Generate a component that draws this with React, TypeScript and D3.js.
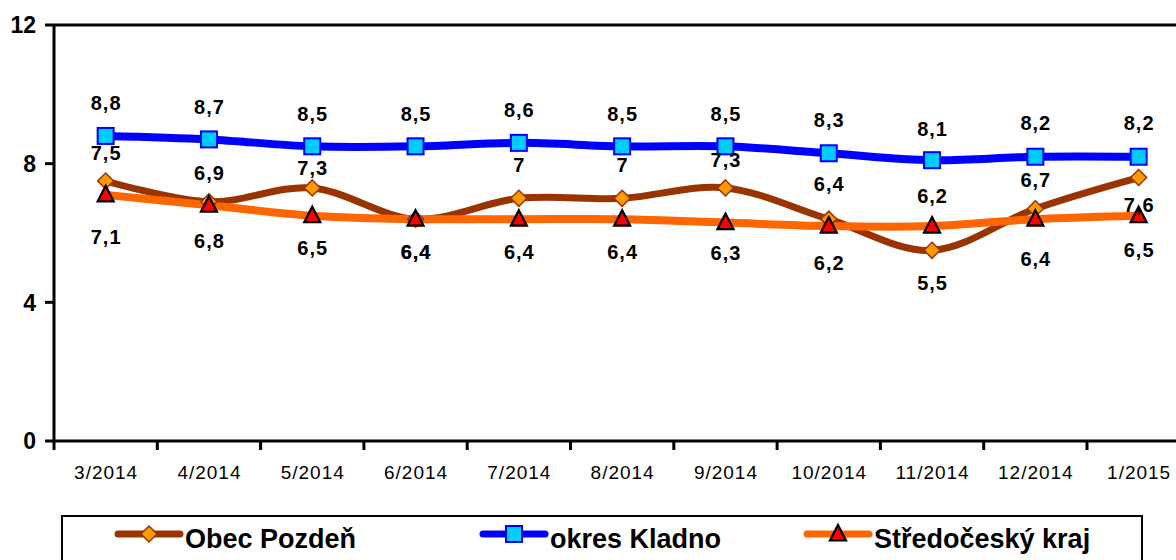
import React from 'react'
import { scaleLinear, scaleBand, line, curveCardinal } from 'd3'

const categories = ['3/2014', '4/2014', '5/2014', '6/2014', '7/2014', '8/2014', '9/2014', '10/2014', '11/2014', '12/2014', '1/2015']
const obecPozden = [7.5, 6.9, 7.3, 6.4, 7, 7, 7.3, 6.4, 5.5, 6.7, 7.6]
const okresKladno = [8.8, 8.7, 8.5, 8.5, 8.6, 8.5, 8.5, 8.3, 8.1, 8.2, 8.2]
const stredocesky = [7.1, 6.8, 6.5, 6.4, 6.4, 6.4, 6.3, 6.2, 6.2, 6.4, 6.5]
const yTicks = [0, 4, 8, 12]
const seriesNames = ['Obec Pozdeň', 'okres Kladno', 'Středočeský kraj']

// label offsets (px) as placed in the original chart
const brownLabelDy = [-28, -29, -20, 33, -34, -34, -28, -35, 32, -29, 27]
const blueLabelDy = [-33, -33, -33, -33, -33, -33, -33, -33, -31, -34, -34]
const orangeLabelDy = [42, 36, 32, 33, 33, 33, 30, 37, -30, 40, 34]

const FONT = '"Liberation Sans", Arial, sans-serif'
const W = 1176
const H = 560
const left = 54
const top = 25
const bottom = 441
const right = left + 103.3 * categories.length

const fmt = (v: number) => String(v).replace('.', ',')

const Diamond = ({ x, y, r = 8 }: { x: number; y: number; r?: number }) => (
  <path d={`M${x},${y - r}L${x + r},${y}L${x},${y + r}L${x - r},${y}Z`} fill='#ff9900' stroke='#993300' strokeWidth={1.5} />
)
const Square = ({ x, y }: { x: number; y: number }) => (
  <rect x={x - 8} y={y - 8} width={16} height={16} fill='#00ccff' stroke='#0000ff' strokeWidth={2} />
)
const Triangle = ({ x, y }: { x: number; y: number }) => (
  <path d={`M${x},${y - 9}L${x + 8},${y + 6.5}L${x - 8},${y + 6.5}Z`} fill='#ff0000' stroke='#000' strokeWidth={2.2} strokeLinejoin='miter' />
)

const App = () => {
  const xscale = scaleBand<string>().domain(categories).range([left, right])
  const cx = (i: number) => (xscale(categories[i]) as number) + xscale.bandwidth() / 2
  const yscale = scaleLinear().domain([0, 12]).range([bottom, top])

  const path = line<number>()
    .x((_, i) => cx(i))
    .y(d => yscale(d))
    .curve(curveCardinal.tension(0))

  const series = [
    { data: obecPozden, color: '#993300', width: 7, Marker: Diamond, dy: brownLabelDy },
    { data: okresKladno, color: '#0000ff', width: 8, Marker: Square, dy: blueLabelDy },
    { data: stredocesky, color: '#ff6600', width: 8, Marker: Triangle, dy: orangeLabelDy },
  ]

  const legendItems = [
    { x: 118, Marker: Diamond, color: '#993300' },
    { x: 483, Marker: Square, color: '#0000ff' },
    { x: 807, Marker: Triangle, color: '#ff6600' },
  ]

  return (
    <svg width={W} height={H} viewBox={`0 0 ${W} ${H}`} style={{ position: 'absolute', left: 0, top: 0, background: '#fff' }} fontFamily={FONT}>
      {/* axes frame */}
      <line x1={left} x2={W + 20} y1={top} y2={top} stroke='#000' strokeWidth={3} />
      <line x1={left} x2={left} y1={top} y2={bottom} stroke='#000' strokeWidth={3} />
      <line x1={left} x2={W + 20} y1={bottom} y2={bottom} stroke='#000' strokeWidth={3} />

      {yTicks.map(t => (
        <g key={t}>
          <line x1={left - 9} x2={left} y1={yscale(t)} y2={yscale(t)} stroke='#000' strokeWidth={3} />
          <text x={36} y={yscale(t)} dy='0.36em' textAnchor='end' fontSize={23} fontWeight='bold'>{t}</text>
        </g>
      ))}

      {categories.map((c, i) => (
        <g key={c}>
          <line x1={xscale(c)} x2={xscale(c)} y1={bottom} y2={bottom + 9} stroke='#000' strokeWidth={3} />
          <text x={cx(i) + 0.5} y={479} textAnchor='middle' fontSize={19} letterSpacing={1}>{c}</text>
        </g>
      ))}

      {series.map((s, k) => (
        <path key={k} d={path(s.data) as string} fill='none' stroke={s.color} strokeWidth={s.width} strokeLinejoin='round' />
      ))}

      {series.map((s, k) => (
        <g key={k}>
          {s.data.map((v, i) => <s.Marker key={i} x={cx(i)} y={yscale(v)} />)}
        </g>
      ))}

      {series.map((s, k) => (
        <g key={k}>
          {s.data.map((v, i) => (
            <text key={i} x={cx(i) + 0.5} y={yscale(v) + s.dy[i]} dy='0.36em' textAnchor='middle' fontSize={20} fontWeight='bold' letterSpacing={1}>
              {fmt(v)}
            </text>
          ))}
        </g>
      ))}

      {/* legend */}
      <rect x={62} y={516} width={1080} height={80} fill='none' stroke='#000' strokeWidth={2} />
      {legendItems.map((it, k) => (
        <g key={k}>
          <line x1={it.x} x2={it.x + 62} y1={534} y2={534} stroke={it.color} strokeWidth={7} strokeLinecap='round' />
          <it.Marker x={it.x + 31} y={534} />
          <text x={it.x + 67} y={548} fontSize={27} fontWeight='bold'>{seriesNames[k]}</text>
        </g>
      ))}
    </svg>
  )
}

export default App
